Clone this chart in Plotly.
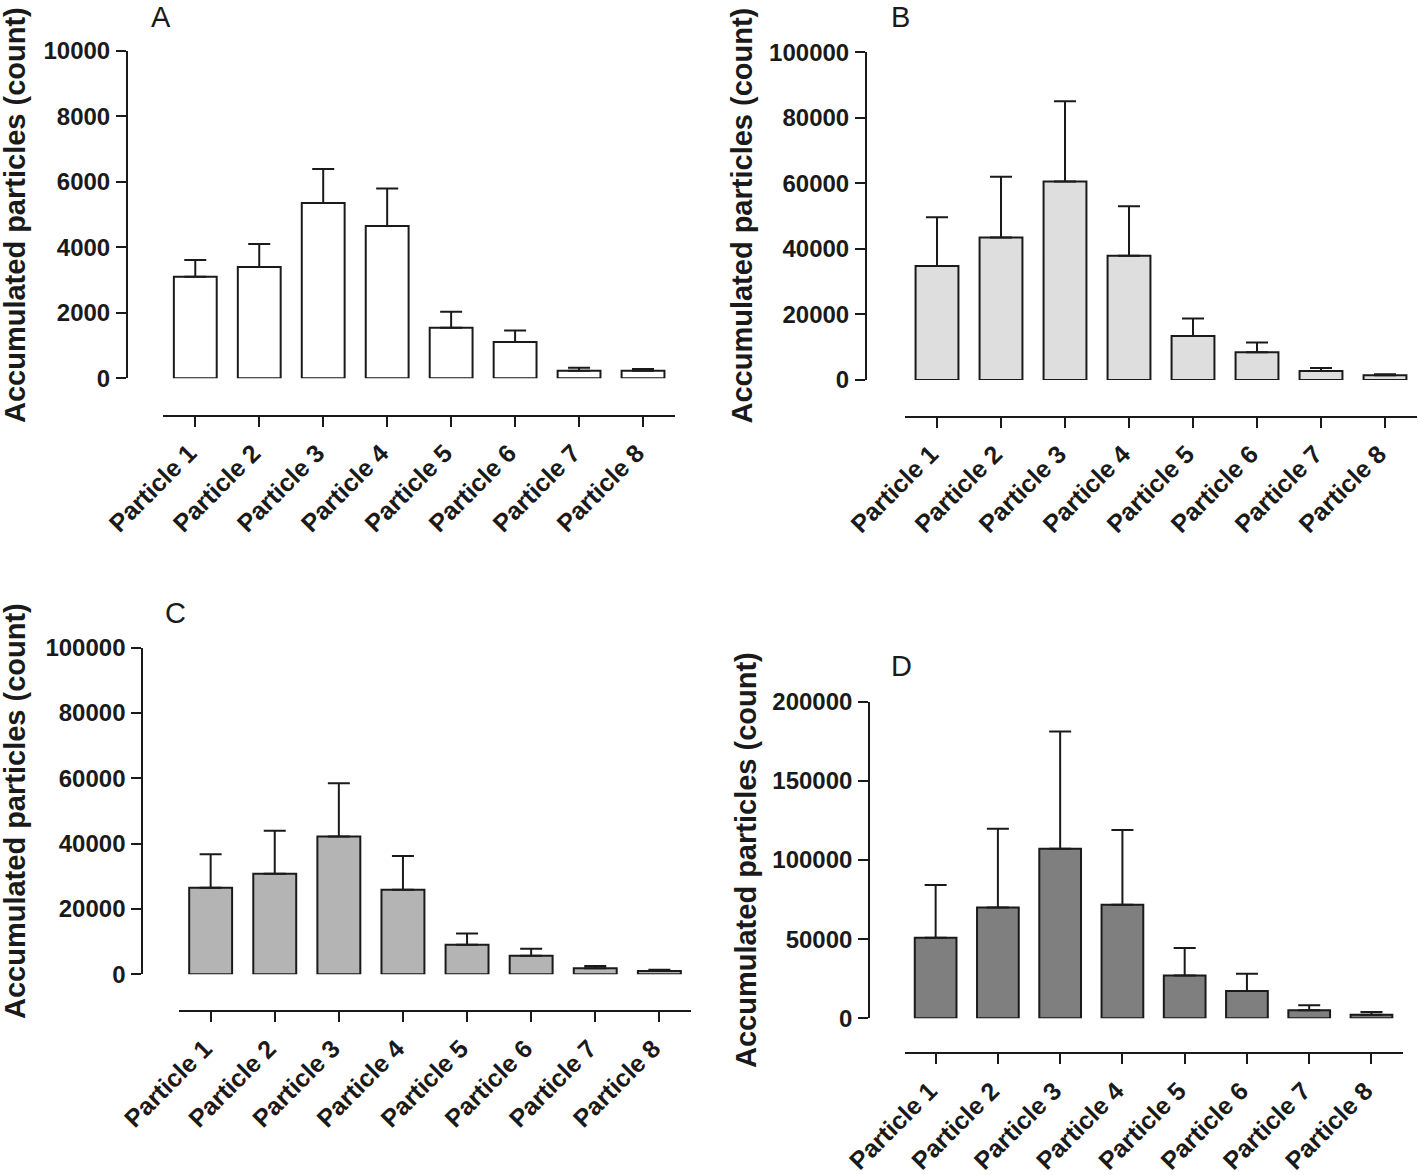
import plotly.graph_objects as go

W, H = 1418, 1175

categories = ["Particle 1", "Particle 2", "Particle 3", "Particle 4",
              "Particle 5", "Particle 6", "Particle 7", "Particle 8"]

# Panel A
mean_a = [3100, 3400, 5350, 4650, 1540, 1110, 230, 230]
sd_a = [510, 700, 1040, 1140, 490, 350, 90, 55]
# Panel B
mean_b = [34750, 43460, 60570, 37900, 13400, 8500, 2720, 1420]
sd_b = [14950, 18540, 24510, 15150, 5340, 2940, 980, 320]
# Panel C
mean_c = [26470, 30750, 42200, 25900, 9020, 5660, 1850, 1040]
sd_c = [10290, 13180, 16300, 10300, 3470, 2200, 690, 350]
# Panel D
mean_d = [50900, 69950, 107100, 71700, 27100, 17270, 5030, 2190]
sd_d = [33250, 49830, 74100, 47200, 17270, 10930, 3270, 1740]

ytick_a = [0, 2000, 4000, 6000, 8000, 10000]
ytick_b = [0, 20000, 40000, 60000, 80000, 100000]
ytick_c = [0, 20000, 40000, 60000, 80000, 100000]
ytick_d = [0, 50000, 100000, 150000, 200000]

panel_letters = ["A", "B", "C", "D"]
fills = ["#ffffff", "#dedede", "#b4b4b4", "#7f7f7f"]
y_title = "Accumulated particles (count)"

def fx(px):
    return px / W

def fy(py):
    return 1 - py / H

# layout geometry (pixels): x-domain, y-domain (zero, top), y-axis x, x-axis y
geom = [
    dict(xd=(163.3, 675.0), yd=(378.3, 50.7), yax=127.0, xax=415.7,
         letter=(161, 17), title=(15, 215)),
    dict(xd=(905.0, 1417.0), yd=(380.0, 52.3), yax=866.0, xax=416.5,
         letter=(900.5, 17.5), title=(741.5, 216)),
    dict(xd=(178.6, 691.4), yd=(974.3, 647.7), yax=142.3, xax=1011.0,
         letter=(175, 613), title=(15, 811)),
    dict(xd=(904.5, 1402.6), yd=(1018.3, 701.7), yax=869.2, xax=1053.3,
         letter=(901.7, 666), title=(746, 860)),
]

means = [mean_a, mean_b, mean_c, mean_d]
sds = [sd_a, sd_b, sd_c, sd_d]
yticks = [ytick_a, ytick_b, ytick_c, ytick_d]

FONT = "Liberation Sans, Arial, sans-serif"
INK = "#1a1a1a"

fig = go.Figure()
annotations = []
layout_axes = {}

for i in range(4):
    g = geom[i]
    xn = "x" if i == 0 else f"x{i+1}"
    yn = "y" if i == 0 else f"y{i+1}"
    fig.add_trace(go.Bar(
        x=list(range(len(categories))), y=means[i],
        width=0.67,
        marker=dict(color=fills[i], line=dict(color=INK, width=2)),
        error_y=dict(type="data", array=sds[i], arrayminus=[0] * len(sds[i]),
                     symmetric=False, color=INK, thickness=2, width=11),
        xaxis=xn, yaxis=yn, showlegend=False, hoverinfo="skip",
    ))
    xkey = "xaxis" if i == 0 else f"xaxis{i+1}"
    ykey = "yaxis" if i == 0 else f"yaxis{i+1}"
    layout_axes[xkey] = dict(
        domain=[fx(g["xd"][0]), fx(g["xd"][1])],
        range=[-0.5, 7.5],
        anchor="free", position=fy(g["xax"]),
        tickmode="array", tickvals=list(range(len(categories))),
        ticktext=categories, tickangle=-45,
        ticks="outside", ticklen=10, tickwidth=2, tickcolor=INK,
        showline=True, linecolor=INK, linewidth=2,
        showgrid=False, zeroline=False, fixedrange=True, automargin=False,
        ticklabelshift=-6, ticklabelstandoff=2,
        tickfont=dict(family=FONT, size=25, color=INK, weight="bold"),
    )
    ymax = yticks[i][-1]
    layout_axes[ykey] = dict(
        domain=[fy(g["yd"][0]), fy(g["yd"][1])],
        range=[0, ymax],
        anchor="free", position=fx(g["yax"]),
        tickmode="array", tickvals=yticks[i], tickformat="d",
        ticks="outside", ticklen=10, tickwidth=2, tickcolor=INK,
        showline=True, linecolor=INK, linewidth=2,
        showgrid=False, zeroline=False, fixedrange=True, automargin=False,
        ticklabelstandoff=1,
        tickfont=dict(family=FONT, size=24, color=INK, weight="bold"),
    )
    annotations.append(dict(
        text=panel_letters[i], xref="paper", yref="paper",
        x=fx(g["letter"][0]), y=fy(g["letter"][1]),
        xanchor="center", yanchor="middle", showarrow=False,
        font=dict(family=FONT, size=29, color=INK),
    ))
    annotations.append(dict(
        text=y_title, xref="paper", yref="paper",
        x=fx(g["title"][0]), y=fy(g["title"][1]),
        xanchor="center", yanchor="middle", showarrow=False, textangle=-90,
        font=dict(family=FONT, size=29, color=INK, weight="bold"),
    ))

fig.update_layout(
    width=W, height=H,
    margin=dict(l=0, r=0, t=0, b=0, autoexpand=False),
    paper_bgcolor="white", plot_bgcolor="white",
    annotations=annotations,
    bargap=0.33,
    **layout_axes,
)

fig.write_html(
    "out.html",
    config={"displayModeBar": False},
    post_script="document.body.style.margin='0';document.body.style.overflow='hidden';",
)
